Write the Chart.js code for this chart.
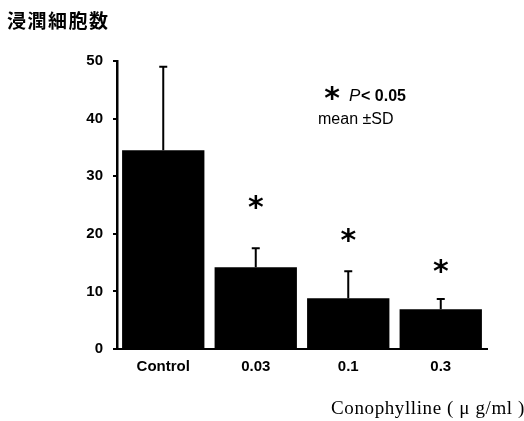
<!DOCTYPE html>
<html>
<head>
<meta charset="utf-8">
<script src="https://cdn.jsdelivr.net/npm/chart.js@4/dist/chart.umd.min.js"></script>
<style>
  body { margin: 0; background: #fff; }
  canvas { display: block; }
</style>
</head>
<body>
<canvas id="cellChart" width="524" height="421"></canvas>
<script>
// values
const doses = ['Control', '0.03', '0.1', '0.3'];
const cellCounts = [34.5, 14.2, 8.8, 6.9];
const sdValues = [14.5, 3.3, 4.7, 1.8];
const starLevels = [null, 25.4, 19.7, 14.4];
const yTicks = [0, 10, 20, 30, 40, 50];

const tickFont = { family: 'Liberation Sans, Arial, sans-serif', size: 15, weight: 'bold' };
const starFont = 'bold 30px "DejaVu Sans", sans-serif';

// draws SD whiskers, significance stars and the text labels
const extras = {
    id: 'extras',
    afterDatasetsDraw(chart) {
        const ctx = chart.ctx;
        const x = chart.scales.x;
        const y = chart.scales.y;
        ctx.save();
        ctx.strokeStyle = '#000';
        ctx.fillStyle = '#000';
        ctx.lineWidth = 2;

        cellCounts.forEach(function (v, i) {
            const cx = x.getPixelForValue(i);
            const top = y.getPixelForValue(v + sdValues[i]);
            ctx.beginPath();
            ctx.moveTo(cx, y.getPixelForValue(v));
            ctx.lineTo(cx, top);
            ctx.moveTo(cx - 4, top);
            ctx.lineTo(cx + 4, top);
            ctx.stroke();
        });

        ctx.font = starFont;
        ctx.textAlign = 'center';
        ctx.textBaseline = 'middle';
        starLevels.forEach(function (s, i) {
            if (s === null) return;
            ctx.fillText('*', x.getPixelForValue(i), y.getPixelForValue(s) + 7);
        });

        // legend-like note
        const a = chart.chartArea;
        ctx.fillText('*', a.left + 215, y.getPixelForValue(44.4) + 7);
        ctx.textAlign = 'left';
        ctx.font = 'italic 17px Liberation Sans, Arial, sans-serif';
        ctx.fillText('P', a.left + 232, y.getPixelForValue(43.8));
        ctx.font = 'bold 16px Liberation Sans, Arial, sans-serif';
        ctx.fillText('< 0.05', a.left + 244, y.getPixelForValue(43.8));
        ctx.font = '16px Liberation Sans, Arial, sans-serif';
        ctx.fillText('mean ±SD', a.left + 201, y.getPixelForValue(39.8));

        // y title
        ctx.font = 'bold 19px "Noto Sans CJK JP", sans-serif';
        ctx.letterSpacing = '1.5px';
        ctx.fillText('浸潤細胞数', 7, 21);

        // x title
        ctx.font = '19px Liberation Serif, serif';
        ctx.letterSpacing = '0.6px';
        ctx.textAlign = 'right';
        ctx.fillText('Conophylline ( μ g/ml )', 525, 409);
        ctx.letterSpacing = '0px';
        ctx.restore();
    }
};

const chart = new Chart(document.getElementById('cellChart'), {
    type: 'bar',
    data: {
        labels: doses,
        datasets: [{
            data: cellCounts,
            backgroundColor: '#000',
            borderWidth: 0,
            categoryPercentage: 1,
            barPercentage: 0.89
        }]
    },
    options: {
        responsive: false,
        animation: false,
        layout: { padding: { top: 61, right: 37, bottom: 0, left: 0 } },
        plugins: {
            legend: { display: false },
            tooltip: { enabled: false }
        },
        scales: {
            x: {
                grid: { display: false },
                border: { display: true, color: '#000', width: 2 },
                ticks: { color: '#000', font: tickFont, padding: 1, maxRotation: 0 },
                afterFit: function (s) { s.height = 72; }
            },
            y: {
                min: 0,
                max: 50,
                afterBuildTicks: function (s) { s.ticks = yTicks.map(function (v) { return { value: v }; }); },
                grid: { drawOnChartArea: false, drawTicks: true, tickLength: 4, color: '#000', lineWidth: 2 },
                border: { display: true, color: '#000', width: 2.5 },
                ticks: { color: '#000', font: tickFont, padding: 10 },
                afterFit: function (s) { s.width = 117; }
            }
        }
    },
    plugins: [extras]
});
</script>
</body>
</html>
